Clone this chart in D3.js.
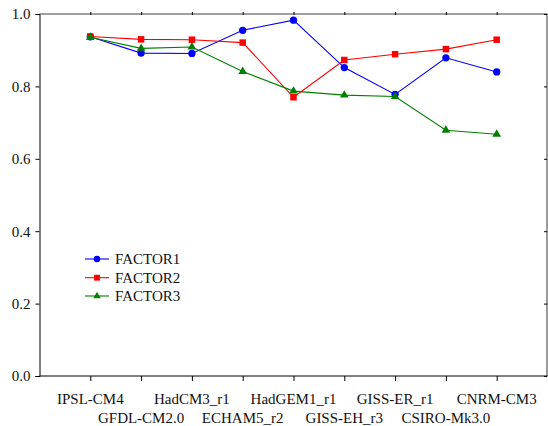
<!DOCTYPE html>
<html><head><meta charset="utf-8">
<script src="https://cdn.jsdelivr.net/npm/d3@7"></script>
<style>body{margin:0;background:#fff;}</style>
</head><body>
<svg id="c" width="548" height="426"></svg>
<script>
const categories = ["IPSL-CM4","GFDL-CM2.0","HadCM3_r1","ECHAM5_r2","HadGEM1_r1","GISS-EH_r3","GISS-ER_r1","CSIRO-Mk3.0","CNRM-CM3"];
const factor1 = [0.937,0.892,0.891,0.955,0.983,0.852,0.778,0.879,0.840];
const factor2 = [0.938,0.930,0.929,0.921,0.770,0.873,0.889,0.903,0.929];
const factor3 = [0.936,0.905,0.909,0.841,0.787,0.776,0.772,0.679,0.668];
const yTicks = [0,0.2,0.4,0.6,0.8,1.0];
const seriesNames = ["FACTOR1","FACTOR2","FACTOR3"];
const seriesColors = ["#0000ff","#ff0000","#008000"];
const seriesSymbols = [d3.symbolCircle, d3.symbolSquare, d3.symbolTriangle];

const FONT = "'Liberation Serif', serif";
const svg = d3.select("#c");
const L = 39.5, R = 547.5, T = 14, B = 376;
const x = d3.scaleLinear().domain([0, categories.length + 1]).range([L, R]);
const y = d3.scaleLinear().domain([0, 1]).range([B, T]);

// frame: top/right gray
svg.append("line").attr("x1", L).attr("x2", R).attr("y1", T).attr("y2", T).attr("stroke", "#808080").attr("stroke-width", 1.6);
svg.append("line").attr("x1", R - 0.5).attr("x2", R - 0.5).attr("y1", T).attr("y2", B).attr("stroke", "#808080").attr("stroke-width", 1.6);

// axes
const idx = categories.map((d, i) => i + 1);
const xAxis = d3.axisBottom(x).tickValues(idx).tickSize(5).tickFormat("");
const gx = svg.append("g").attr("transform", `translate(0,${B})`).call(xAxis);
gx.select(".domain").attr("d", `M${L},0H${R}`);
const xTop = d3.axisTop(x).tickValues(idx).tickSize(3).tickFormat("");
const gxt = svg.append("g").attr("transform", `translate(0,${T + 1})`).call(xTop);
gxt.select(".domain").remove();

const yAxis = d3.axisLeft(y).tickValues(yTicks).tickSize(4).tickFormat(d3.format(".1f")).tickPadding(5);
const gy = svg.append("g").attr("transform", `translate(${L},0)`).call(yAxis);
gy.attr("font-family", FONT).attr("font-size", 15);
gy.selectAll("text").attr("fill", "#111").style("font-family", FONT);
const yRight = d3.axisLeft(y).tickValues(yTicks).tickSize(3).tickFormat("");
const gyr = svg.append("g").attr("transform", `translate(${R - 0.5},0)`).call(yRight);
gyr.select(".domain").remove();

// x labels staggered
svg.append("g").selectAll("text").data(categories).join("text")
  .attr("x", (d, i) => x(i + 1))
  .attr("y", (d, i) => i % 2 === 0 ? 404 : 423)
  .attr("text-anchor", "middle").attr("font-size", 15).attr("fill", "#111")
  .style("font-family", FONT)
  .text(d => d);

const allSeries = [factor1, factor2, factor3];
const line = d3.line().x((d, i) => x(i + 1)).y(d => y(d));
allSeries.forEach((s, k) => {
  svg.append("path").datum(s).attr("d", line).attr("fill", "none")
    .attr("stroke", seriesColors[k]).attr("stroke-width", 1.1);
  svg.append("g").selectAll("path").data(s).join("path")
    .attr("transform", (d, i) => `translate(${x(i + 1)},${y(d)})`)
    .attr("d", d3.symbol().type(seriesSymbols[k]).size(k === 2 ? 32 : 42))
    .attr("fill", seriesColors[k]);
});

// legend
const legY = [259, 277.7, 296];
seriesNames.forEach((n, k) => {
  const g = svg.append("g").attr("transform", `translate(0,${legY[k]})`);
  g.append("line").attr("x1", 85).attr("x2", 109).attr("stroke", seriesColors[k]).attr("stroke-width", 1.1);
  g.append("path").attr("transform", "translate(97,0)")
    .attr("d", d3.symbol().type(seriesSymbols[k]).size(k === 2 ? 24 : 34)).attr("fill", seriesColors[k]);
  g.append("text").attr("x", 115).attr("y", 5).attr("font-size", 15).attr("fill", "#111")
    .style("font-family", FONT).text(n);
});
</script>
</body></html>
